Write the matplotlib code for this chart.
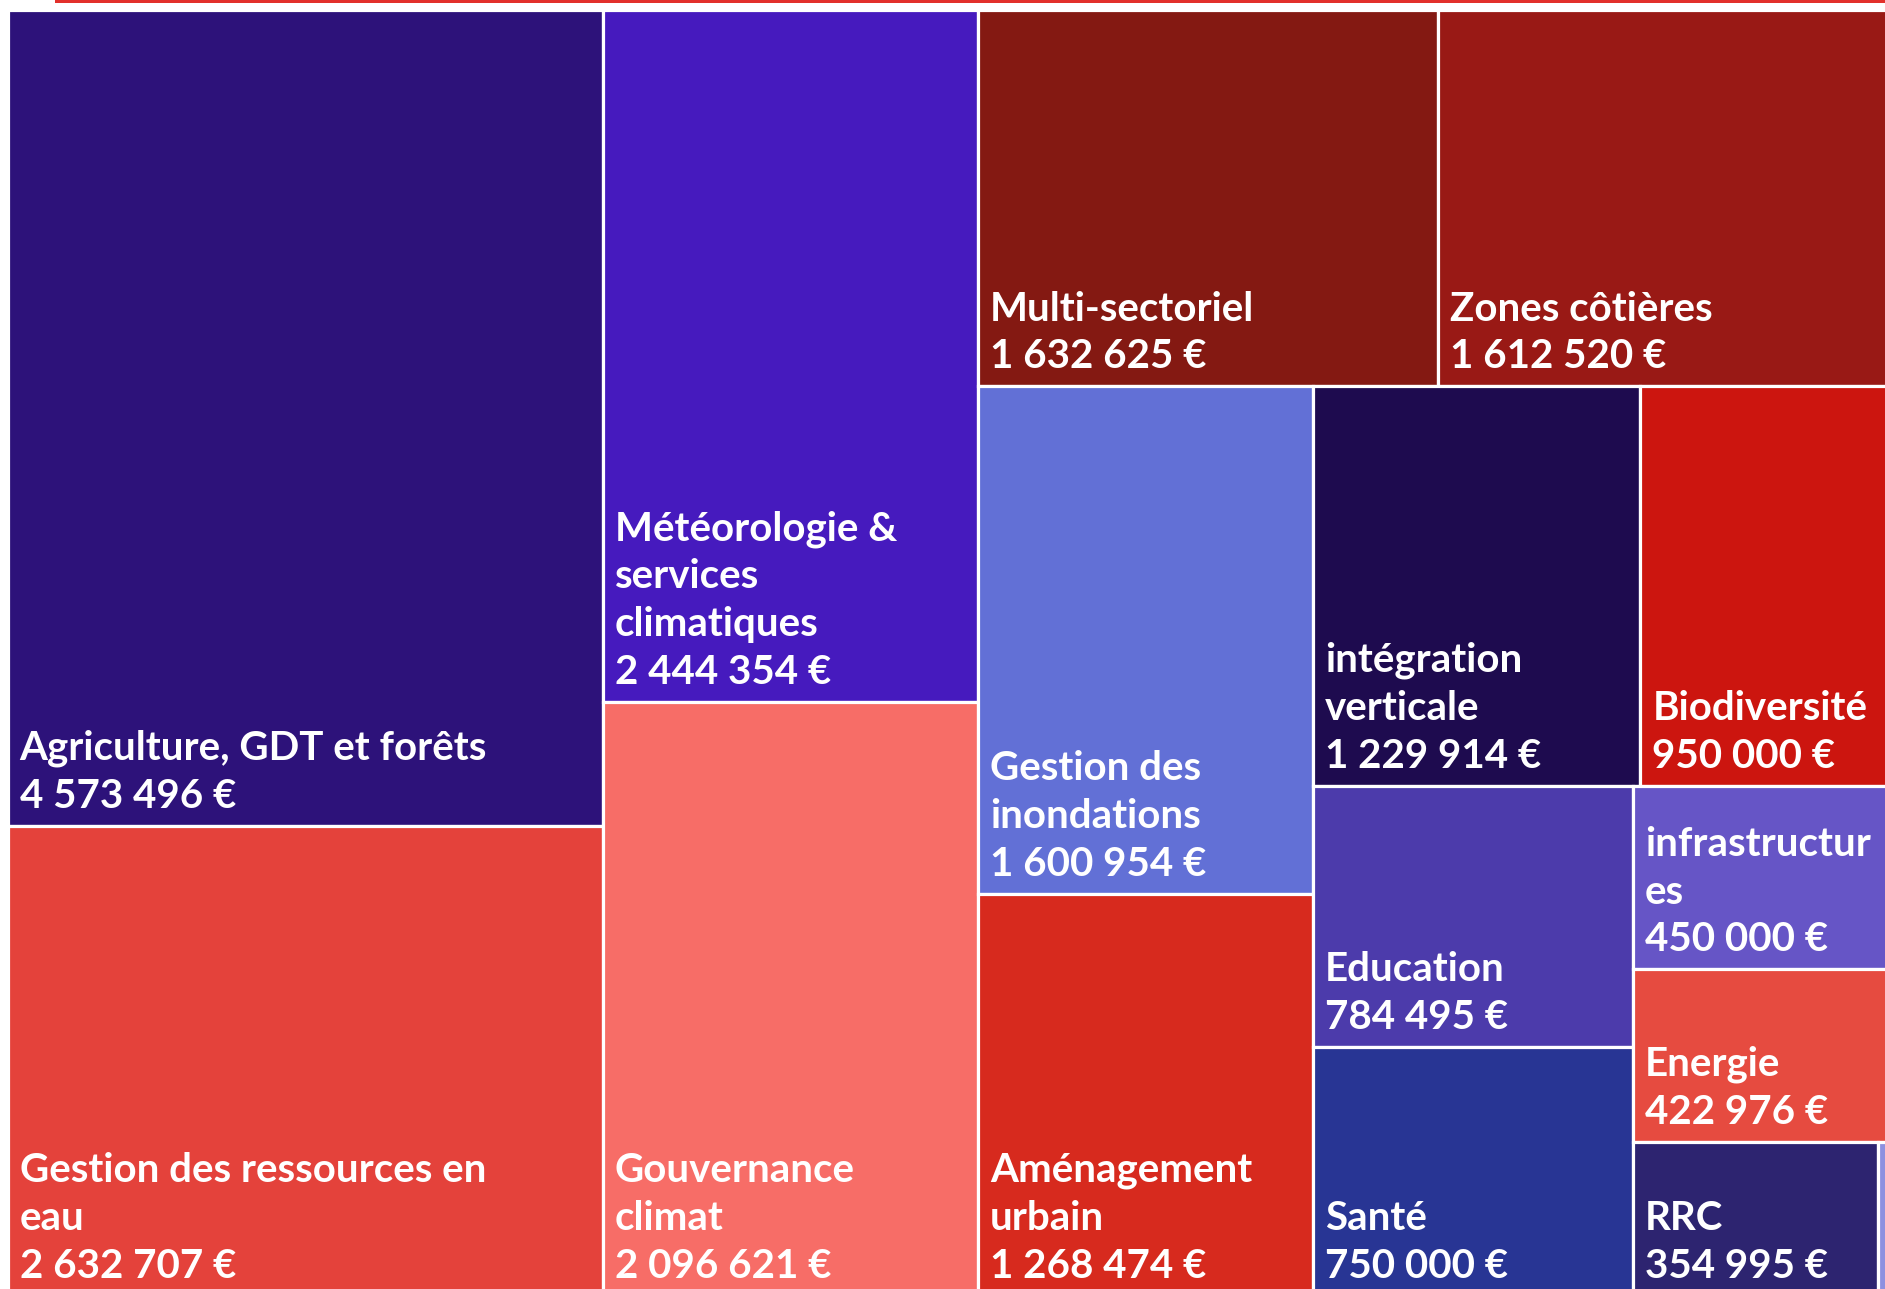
import matplotlib
matplotlib.use("Agg")
import matplotlib.pyplot as plt
from matplotlib.patches import Rectangle

# ---------------- data ----------------
categories = [
    "Agriculture, GDT et forêts",
    "Gestion des ressources en\neau",
    "Météorologie &\nservices\nclimatiques",
    "Gouvernance\nclimat",
    "Multi-sectoriel",
    "Zones côtières",
    "Gestion des\ninondations",
    "Aménagement\nurbain",
    "intégration\nverticale",
    "Biodiversité",
    "Education",
    "Santé",
    "infrastructur\nes",
    "Energie",
    "RRC",
    "",  # small tile cut off at the right edge (estimated)
]
values = [4573496, 2632707, 2444354, 2096621, 1632625, 1612520, 1600954,
          1268474, 1229914, 950000, 784495, 750000, 450000, 422976, 354995,
          22000]
colors = ["#2D127A", "#E4423B", "#461ABE", "#F76D67", "#841912", "#991915",
          "#6270D6", "#D72A1E", "#1E0B4F", "#CC150F", "#4C3BAB", "#283594",
          "#6655C6", "#E64B40", "#2D2470", "#8E90E0"]
# number of tiles in each successive strip of the treemap
strips = [2, 2, 2, 2, 2, 2, 1, 1, 1, 1]

# ---------------- layout ----------------
W_PX, H_PX = 1885, 1289
TW, TH = 1885.5, 1286.5        # full treemap extent (partly cropped in view)
OX, OY = 7.5, 9.5              # offset of the treemap in the view


def strip_layout(vals, groups, x, y, w, h):
    rects = []
    idx = 0
    remaining = float(sum(vals))
    for n in groups:
        grp = vals[idx:idx + n]
        s = float(sum(grp))
        frac = s / remaining
        if w >= h:
            sw = w * frac
            yy = y
            for v in grp:
                vh = h * v / s
                rects.append((x, yy, sw, vh))
                yy += vh
            x += sw
            w -= sw
        else:
            sh = h * frac
            xx = x
            for v in grp:
                vw = w * v / s
                rects.append((xx, y, vw, sh))
                xx += vw
            y += sh
            h -= sh
        remaining -= s
        idx += n
    return rects


def fmt(v):
    return f"{v:,}".replace(",", " ") + " €"


fig = plt.figure(figsize=(W_PX / 100, H_PX / 100), dpi=100)
fig.patch.set_facecolor("white")
ax = fig.add_axes([0, 0, 1, 1])
ax.set_xlim(-OX, W_PX - OX)
ax.set_ylim(H_PX - OY, -OY)
ax.axis("off")

rects = strip_layout(values, strips, 0, 0, TW, TH)
for (x, y, w, h), lab, v, c in zip(rects, categories, values, colors):
    ax.add_patch(Rectangle((x, y), w, h, facecolor=c, edgecolor="white",
                           linewidth=2.3))
    if lab:
        ax.text(x + 12, y + h - 11, lab + "\n" + fmt(v), color="white",
                fontsize=29, fontweight="bold", family=["Lato", "DejaVu Sans"],
                ha="left", va="bottom", linespacing=1.36, clip_on=True)

# thin red rule at the very top
fig.add_artist(Rectangle((55 / W_PX, 1 - 2.5 / H_PX), 1, 2.5 / H_PX,
                         transform=fig.transFigure, facecolor="#E2302B",
                         edgecolor="none"))

fig.savefig("out.png", dpi=100, facecolor="white")
